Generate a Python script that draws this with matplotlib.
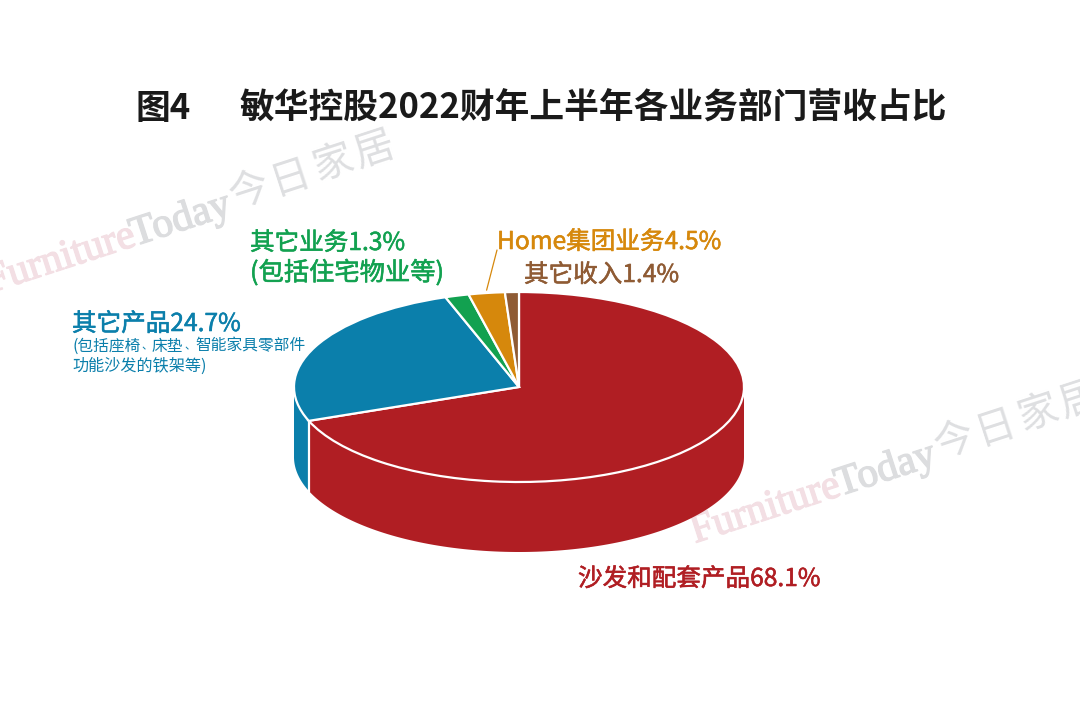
import numpy as np
import matplotlib
matplotlib.use("Agg")
import matplotlib.pyplot as plt
import matplotlib.patheffects as pe

plt.rcParams["font.family"] = ["Noto Sans CJK SC", "DejaVu Sans"]

# slice shares as measured on the drawn pie (the printed labels differ a little)
segments = ["沙发和配套产品", "其它产品", "其它业务", "Home集团业务", "其它收入"]
shares = [69.2, 25.5, 1.7, 2.6, 1.0]
printed = ["68.1%", "24.7%", "1.3%", "4.5%", "1.4%"]
colors = ["#B01E23", "#0B7FAB", "#12A150", "#D6880C", "#8F5B34"]

W, H = 1080, 707
fig = plt.figure(figsize=(W / 100, H / 100), dpi=100, facecolor="white")

# full figure axes in pixels, for the texts
bg = fig.add_axes([0, 0, 1, 1])
bg.set_xlim(0, W)
bg.set_ylim(H, 0)
bg.axis("off")

# thin stroke in the text colour, no medium weight is installed
def heavier(color, lw=0.4):
    return [pe.withStroke(linewidth=lw, foreground=color)]

# watermarks
def watermark(x0, y0):
    rot = 18.0
    ux, uy = np.cos(np.radians(rot)), -np.sin(np.radians(rot))
    px, py = -np.sin(np.radians(rot)), -np.cos(np.radians(rot))
    kw = dict(rotation=rot, rotation_mode="anchor", ha="left", va="baseline", clip_on=True, zorder=1)
    bg.text(x0, y0, "Furniture", color="#F3DFE4", family="Liberation Serif", fontsize=30,
            path_effects=heavier("#F3DFE4", 1.0), **kw)
    bg.text(x0 + 152 * ux, y0 + 152 * uy, "Today", color="#DCDDDF", family="Liberation Serif", fontsize=30,
            path_effects=heavier("#DCDDDF", 1.0), **kw)
    for i, ch in enumerate("今日家居"):
        d = 258 + i * 44
        bg.text(x0 + d * ux + 6 * px, y0 + d * uy + 6 * py, ch, color="#DEDFE1", fontsize=29, **kw)

watermark(695, 543)
watermark(-10, 293)

# pie, squashed by giving it a wide flat axes
left, right, top, bottom = 294, 744, 292, 482
depth = 70 / ((bottom - top) / 2)
ax = fig.add_axes([left / W, 1 - bottom / H, (right - left) / W, (bottom - top) / H])
ax.set_zorder(2)
ax.patch.set_alpha(0)

wedges, _ = ax.pie(shares, colors=colors, startangle=90, counterclock=False, radius=1,
                   wedgeprops=dict(edgecolor="white", linewidth=1.6, clip_on=False, zorder=3))
ax.set_aspect("auto")
ax.set_xlim(-1, 1)
ax.set_ylim(-1, 1)

# side walls, only where the rim faces the viewer
ends = 90 - np.cumsum(shares) / sum(shares) * 360
starts = np.r_[90, ends[:-1]]
for a0, a1, c in zip(starts, ends, colors):
    lo, hi = a1, min(a0, 0)
    lo = max(lo, -180)
    if lo >= hi:
        continue
    t = np.radians(np.linspace(hi, lo, 120))
    xs = np.r_[np.cos(t), np.cos(t[::-1])]
    ys = np.r_[np.sin(t), np.sin(t[::-1]) - depth]
    ax.fill(xs, ys, facecolor=c, edgecolor="none", clip_on=False, zorder=1)
    # white seam between walls
    if -180 < lo:
        ax.plot([np.cos(t[-1])] * 2, [np.sin(t[-1]), np.sin(t[-1]) - depth], color="white", lw=1.6,
                clip_on=False, zorder=2)

# leader line for the Home slice
mid = np.radians((starts[3] + ends[3]) / 2)
ax.annotate("", xy=(np.cos(mid), np.sin(mid) * 1.03), xycoords="data", xytext=(497, 250),
            textcoords=bg.transData, annotation_clip=False,
            arrowprops=dict(arrowstyle="-", color=colors[3], lw=0.9, shrinkA=0, shrinkB=0))

# title
title_kw = dict(fontsize=25, weight="bold", color="#1A1A1A", va="center", ha="left")
bg.text(135, 108, "图4", **title_kw)
bg.text(240, 108, "敏华控股2022财年上半年各业务部门营收占比", **title_kw)

# labels
def label(x, y, s, color, size=17.7):
    bg.text(x, y, s, color=color, fontsize=size, va="center", path_effects=heavier(color))

def sublabel(x, y, s, size=11.3):
    bg.text(x, y, s, color=colors[1], fontsize=size, va="center")

label(578, 579, segments[0] + printed[0], colors[0])
label(72, 324, segments[1] + printed[1], colors[1])
sublabel(72, 346, "(包括座椅")
sublabel(141, 346, "、", 8)
sublabel(152, 346, "床垫")
sublabel(184, 346, "、", 8)
sublabel(195, 346, "智能家具零部件")
sublabel(72, 366, "功能沙发的铁架等)", 11.6)
label(250, 243, segments[2] + printed[2], colors[2])
label(250, 273, "(包括住宅物业等)", colors[2], 18.2)
label(497, 242, segments[3] + printed[3], colors[3])
label(524, 275, segments[4] + printed[4], colors[4])

fig.savefig("out.png", dpi=100)
